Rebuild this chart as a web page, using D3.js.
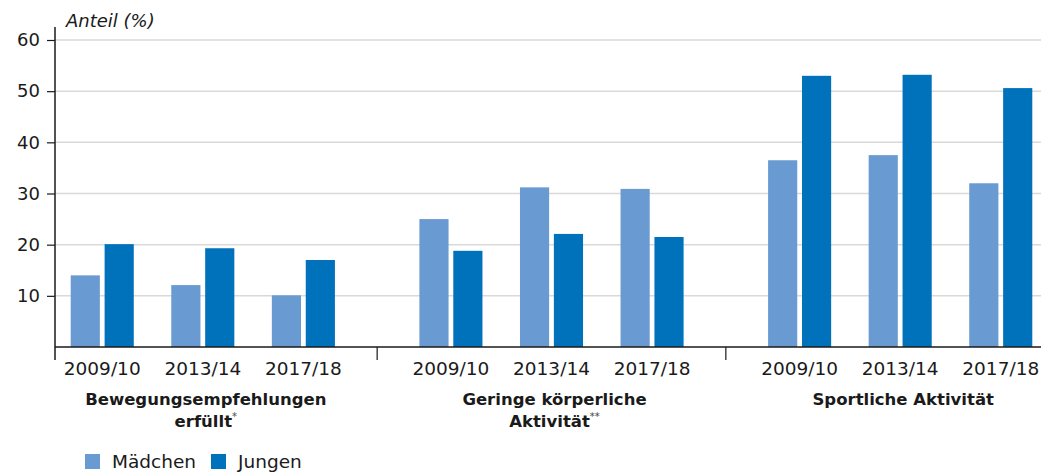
<!DOCTYPE html>
<html><head><meta charset="utf-8">
<script src="https://cdn.jsdelivr.net/npm/d3@7"></script>
<style>
html,body{margin:0;padding:0;background:#fff;}
svg{display:block;font-family:"DejaVu Sans",sans-serif;}
</style></head>
<body>
<svg id="chart" width="1041" height="475"></svg>
<script>
const groups = ["Bewegungsempfehlungen erfüllt", "Geringe körperliche Aktivität", "Sportliche Aktivität"];
const groupLines = [["Bewegungsempfehlungen", "erfüllt"], ["Geringe körperliche", "Aktivität"], ["Sportliche Aktivität"]];
const groupMarks = ["*", "**", ""];
const years = ["2009/10", "2013/14", "2017/18"];
const series = ["Mädchen", "Jungen"];
const maedchen = [14.0, 12.1, 10.1, 25.0, 31.2, 30.9, 36.5, 37.5, 32.0];
const jungen = [20.1, 19.3, 17.0, 18.8, 22.1, 21.5, 53.0, 53.2, 50.6];
const yTicks = [10, 20, 30, 40, 50, 60];
const colors = ["#699bd2", "#0071bb"];
const yLabel = "Anteil (%)";

const FONT = "'DejaVu Sans',sans-serif";
const svg = d3.select("#chart");
const W = 1041;
const axisX = 55;
const y = d3.scaleLinear().domain([0, 60]).range([347, 40]);
const x0 = d3.scaleBand().domain(groups).range([52, 1051]).paddingInner(0.135);
const x1 = d3.scaleBand().domain(years).range([0, x0.bandwidth()]).paddingInner(0.373).paddingOuter(0.186);
const x2 = d3.scaleBand().domain(series).range([0, x1.bandwidth()]).paddingInner(0.14);
const color = d3.scaleOrdinal().domain(series).range(colors);

// gridlines
svg.append("g").selectAll("line").data(yTicks).join("line")
  .attr("x1", axisX).attr("x2", W)
  .attr("y1", d => y(d)).attr("y2", d => y(d))
  .attr("stroke", "#d9d9d9").attr("stroke-width", 1.5);

// data rows
const rows = [];
groups.forEach((g, gi) => years.forEach((yr, yi) => {
  const idx = gi * years.length + yi;
  rows.push({g, yr, s: "Mädchen", v: maedchen[idx]});
  rows.push({g, yr, s: "Jungen", v: jungen[idx]});
}));

svg.append("g").selectAll("rect").data(rows).join("rect")
  .attr("x", d => x0(d.g) + x1(d.yr) + x2(d.s))
  .attr("width", x2.bandwidth())
  .attr("y", d => y(d.v))
  .attr("height", d => y(0) - y(d.v))
  .attr("fill", d => color(d.s));

// y axis
const yAxis = d3.axisLeft(y).tickValues(yTicks).tickSize(8).tickPadding(7).tickFormat(d3.format("d"));
const ya = svg.append("g").attr("transform", `translate(${axisX},0)`).call(yAxis);
ya.select(".domain").remove();
ya.selectAll(".tick line").attr("stroke", "#1a1a1a").attr("stroke-width", 1.2);
ya.selectAll(".tick text").attr("font-size", 18).attr("fill", "#1a1a1a").attr("font-family", FONT);
svg.append("line").attr("x1", axisX).attr("x2", axisX).attr("y1", 27).attr("y2", 360)
  .attr("stroke", "#1a1a1a").attr("stroke-width", 1.5);

// x baseline
svg.append("line").attr("x1", axisX).attr("x2", W).attr("y1", y(0)).attr("y2", y(0))
  .attr("stroke", "#1a1a1a").attr("stroke-width", 1.5);

// group separators
const seps = groups.slice(1).map(g => x0(g) - x0.step() * x0.paddingInner() / 2);
svg.append("g").selectAll("line").data(seps).join("line")
  .attr("x1", d => d).attr("x2", d => d).attr("y1", y(0)).attr("y2", 360)
  .attr("stroke", "#1a1a1a").attr("stroke-width", 1.2);

// year labels
const yearLabels = [];
groups.forEach(g => years.forEach(yr => yearLabels.push({g, yr})));
svg.append("g").selectAll("text").data(yearLabels).join("text")
  .attr("x", d => x0(d.g) + x1(d.yr) + x1.bandwidth() / 2)
  .attr("y", 375)
  .attr("text-anchor", "middle")
  .attr("font-size", 18.5).attr("fill", "#1a1a1a")
  .text(d => d.yr);

// group labels
groups.forEach((g, gi) => {
  const cx = x0(g) + x0.bandwidth() / 2 + 3;
  const lines = groupLines[gi];
  lines.forEach((ln, li) => {
    const t = svg.append("text")
      .attr("x", cx).attr("y", 405 + li * 22)
      .attr("text-anchor", "middle")
      .attr("font-size", 16.5).attr("font-weight", "bold").attr("fill", "#1a1a1a");
    t.append("tspan").text(ln);
    if (li === lines.length - 1 && groupMarks[gi]) {
      t.append("tspan").attr("font-size", 10).attr("dy", -7).attr("font-weight", "normal").attr("fill", "#444").text(groupMarks[gi]);
    }
  });
});

// y label
svg.append("text").attr("x", 66).attr("y", 27)
  .attr("font-size", 18).attr("font-style", "italic").attr("fill", "#1a1a1a")
  .text(yLabel);

// legend
const lg = svg.append("g").attr("transform", "translate(85,454)");
const legendOffsets = [0, 126];
series.forEach((s, i) => {
  const g = lg.append("g").attr("transform", `translate(${legendOffsets[i]},0)`);
  g.append("rect").attr("width", 15).attr("height", 15).attr("fill", color(s));
  g.append("text").attr("x", 27).attr("y", 14).attr("font-size", 18.5).attr("fill", "#1a1a1a").text(s);
});
</script>
</body></html>
